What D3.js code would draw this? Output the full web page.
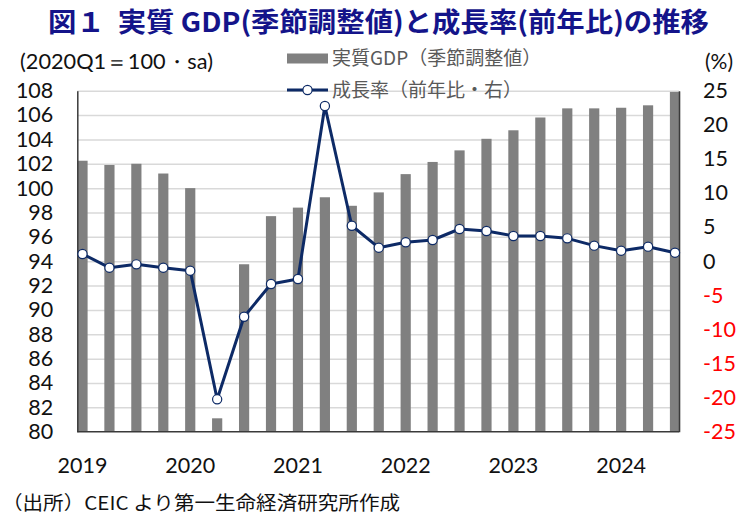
<!DOCTYPE html>
<html>
<head>
<meta charset="utf-8">
<script src="https://cdn.jsdelivr.net/npm/d3@7"></script>
<style>
  body { margin: 0; background: #fff; }
  svg { display: block; }
</style>
</head>
<body>
<div id="chart"></div>
<script>
// quarterly data, 2019Q1 .. 2024Q3
const quarters = [
  "2019Q1", "2019Q2", "2019Q3", "2019Q4",
  "2020Q1", "2020Q2", "2020Q3", "2020Q4",
  "2021Q1", "2021Q2", "2021Q3", "2021Q4",
  "2022Q1", "2022Q2", "2022Q3", "2022Q4",
  "2023Q1", "2023Q2", "2023Q3", "2023Q4",
  "2024Q1", "2024Q2", "2024Q3"
];

// real GDP, seasonally adjusted (2020Q1 = 100)
const gdpIndex = [
  102.25, 101.9, 102.0, 101.2,
  100.0, 81.1, 93.75, 97.7,
  98.4, 99.25, 98.55, 99.65,
  101.15, 102.15, 103.1, 104.05,
  104.75, 105.8, 106.55, 106.55,
  106.6, 106.8, 107.9
];

// growth rate, year on year (%)
const growthYoY = [
  1.06, -0.95, -0.46, -0.95,
  -1.39, -20.25, -8.14, -3.34,
  -2.61, 22.76, 5.2, 1.98,
  2.77, 3.11, 4.72, 4.43,
  3.7, 3.7, 3.35, 2.28,
  1.54, 2.13, 1.25
];

const yearLabels = ["2019", "2020", "2021", "2022", "2023", "2024"];
const leftTicks  = [80, 82, 84, 86, 88, 90, 92, 94, 96, 98, 100, 102, 104, 106, 108];
const rightTicks = [-25, -20, -15, -10, -5, 0, 5, 10, 15, 20, 25];

const W = 743, H = 523;
const plot = { left: 77.3, right: 679, top: 90.7, bottom: 431.7 };

const NUM_FONT = "Lato, 'Noto Sans', sans-serif";
const JP_FONT  = "'Noto Sans CJK JP', 'Noto Sans', sans-serif";
const BAR_COLOR  = "#808080";
const LINE_COLOR = "#0d2a66";

const svg = d3.select("#chart")
  .append("svg")
  .attr("width", W)
  .attr("height", H)
  .attr("viewBox", `0 0 ${W} ${H}`);

// ------- SCALES -------

const x = d3.scalePoint()
  .domain(quarters)
  .range([plot.left + 5.2, plot.right - 4]);

const yL = d3.scaleLinear()
  .domain([80, 108])
  .range([plot.bottom, plot.top]);

const yR = d3.scaleLinear()
  .domain([-25, 25])
  .range([plot.bottom, plot.top]);

// ------- GRID -------

svg.append("g")
  .attr("class", "grid")
  .attr("transform", `translate(${plot.left},0)`)
  .call(d3.axisLeft(yL).tickValues(leftTicks.slice(1)).tickSize(-(plot.right - plot.left)).tickFormat(""))
  .call(g => g.select(".domain").remove())
  .call(g => g.selectAll("line").attr("stroke", "#d9d9d9").attr("stroke-width", 1.5));

// ------- BARS -------

const barW = 10.2;
svg.append("g")
  .selectAll("rect")
  .data(quarters)
  .enter()
  .append("rect")
  .attr("x", d => x(d) - barW / 2)
  .attr("width", barW)
  .attr("y", (d, i) => yL(gdpIndex[i]))
  .attr("height", (d, i) => plot.bottom - yL(gdpIndex[i]))
  .attr("fill", BAR_COLOR);

// ------- AXES -------

const leftAxis = svg.append("g")
  .attr("transform", `translate(${plot.left},0)`)
  .call(d3.axisLeft(yL).tickValues(leftTicks).tickSize(0).tickPadding(24));
leftAxis.select(".domain").attr("stroke", "#3a3a3a").attr("stroke-width", 1.5);
leftAxis.selectAll("text")
  .attr("font-family", NUM_FONT)
  .attr("font-size", 21.5)
  .attr("fill", "#111");

// plain hyphen for negatives, like the original
const rightAxis = svg.append("g")
  .attr("transform", `translate(${plot.right},0)`)
  .call(d3.axisRight(yR).tickValues(rightTicks).tickSize(0).tickPadding(24).tickFormat(d => String(d)));
rightAxis.select(".domain").attr("stroke", "#3a3a3a").attr("stroke-width", 1.5);
rightAxis.selectAll("text")
  .attr("font-family", NUM_FONT)
  .attr("font-size", 21.5)
  .attr("fill", d => d < 0 ? "#ff0000" : "#111");

svg.append("line")
  .attr("x1", plot.left).attr("x2", plot.right)
  .attr("y1", plot.bottom).attr("y2", plot.bottom)
  .attr("stroke", "#3a3a3a")
  .attr("stroke-width", 1.5);

// year labels sit under the first quarter of each year
svg.append("g")
  .selectAll("text")
  .data(yearLabels)
  .enter()
  .append("text")
  .attr("x", d => x(d + "Q1"))
  .attr("y", 465)
  .attr("dy", "0.35em")
  .attr("text-anchor", "middle")
  .attr("font-family", NUM_FONT)
  .attr("font-size", 21.5)
  .attr("fill", "#111")
  .text(d => d);

// ------- LINE -------

const line = d3.line()
  .x((d, i) => x(quarters[i]))
  .y(d => yR(d));

svg.append("path")
  .datum(growthYoY)
  .attr("fill", "none")
  .attr("stroke", LINE_COLOR)
  .attr("stroke-width", 3)
  .attr("stroke-linejoin", "round")
  .attr("d", line);

svg.append("g")
  .selectAll("circle")
  .data(growthYoY)
  .enter()
  .append("circle")
  .attr("cx", (d, i) => x(quarters[i]))
  .attr("cy", d => yR(d))
  .attr("r", 4.6)
  .attr("fill", "#fff")
  .attr("stroke", LINE_COLOR)
  .attr("stroke-width", 1.2);

// ------- LEGEND -------

const legend = svg.append("g").attr("transform", "translate(287,0)");

legend.append("rect")
  .attr("x", 0).attr("y", 53.5)
  .attr("width", 41).attr("height", 10)
  .attr("fill", BAR_COLOR);

legend.append("text")
  .attr("x", 45).attr("y", 58.5)
  .attr("dy", "0.35em")
  .attr("font-family", JP_FONT)
  .attr("font-size", 19)
  .attr("fill", "#595959")
  .text("実質GDP（季節調整値）");

legend.append("line")
  .attr("x1", 0).attr("x2", 41)
  .attr("y1", 90).attr("y2", 90)
  .attr("stroke", LINE_COLOR)
  .attr("stroke-width", 3);

legend.append("circle")
  .attr("cx", 20.5).attr("cy", 90)
  .attr("r", 4.6)
  .attr("fill", "#fff")
  .attr("stroke", LINE_COLOR)
  .attr("stroke-width", 1.2);

legend.append("text")
  .attr("x", 45).attr("y", 90)
  .attr("dy", "0.35em")
  .attr("font-family", JP_FONT)
  .attr("font-size", 19)
  .attr("fill", "#595959")
  .text("成長率（前年比・右）");

// ------- TITLES -------

svg.append("text")
  .attr("x", 48).attr("y", 23)
  .attr("dy", "0.35em")
  .attr("font-family", JP_FONT)
  .attr("font-size", 27)
  .attr("font-weight", 700)
  .attr("fill", "#14148a")
  .attr("textLength", 661)
  .attr("lengthAdjust", "spacingAndGlyphs")
  .style("white-space", "pre")
  .text("図１  実質 GDP(季節調整値)と成長率(前年比)の推移");

svg.append("text")
  .attr("x", 20).attr("y", 62)
  .attr("dy", "0.35em")
  .attr("font-family", NUM_FONT)
  .attr("font-size", 21)
  .attr("fill", "#111")
  .attr("textLength", 193)
  .attr("lengthAdjust", "spacingAndGlyphs")
  .text("(2020Q1＝100・sa)");

svg.append("text")
  .attr("x", 705).attr("y", 62)
  .attr("dy", "0.35em")
  .attr("font-family", NUM_FONT)
  .attr("font-size", 21)
  .attr("fill", "#111")
  .text("(%)");

svg.append("text")
  .attr("x", 2).attr("y", 503)
  .attr("dy", "0.35em")
  .attr("font-family", JP_FONT)
  .attr("font-size", 19)
  .attr("fill", "#111")
  .attr("textLength", 398)
  .attr("lengthAdjust", "spacingAndGlyphs")
  .text("（出所）CEIC より第一生命経済研究所作成");
</script>
</body>
</html>
